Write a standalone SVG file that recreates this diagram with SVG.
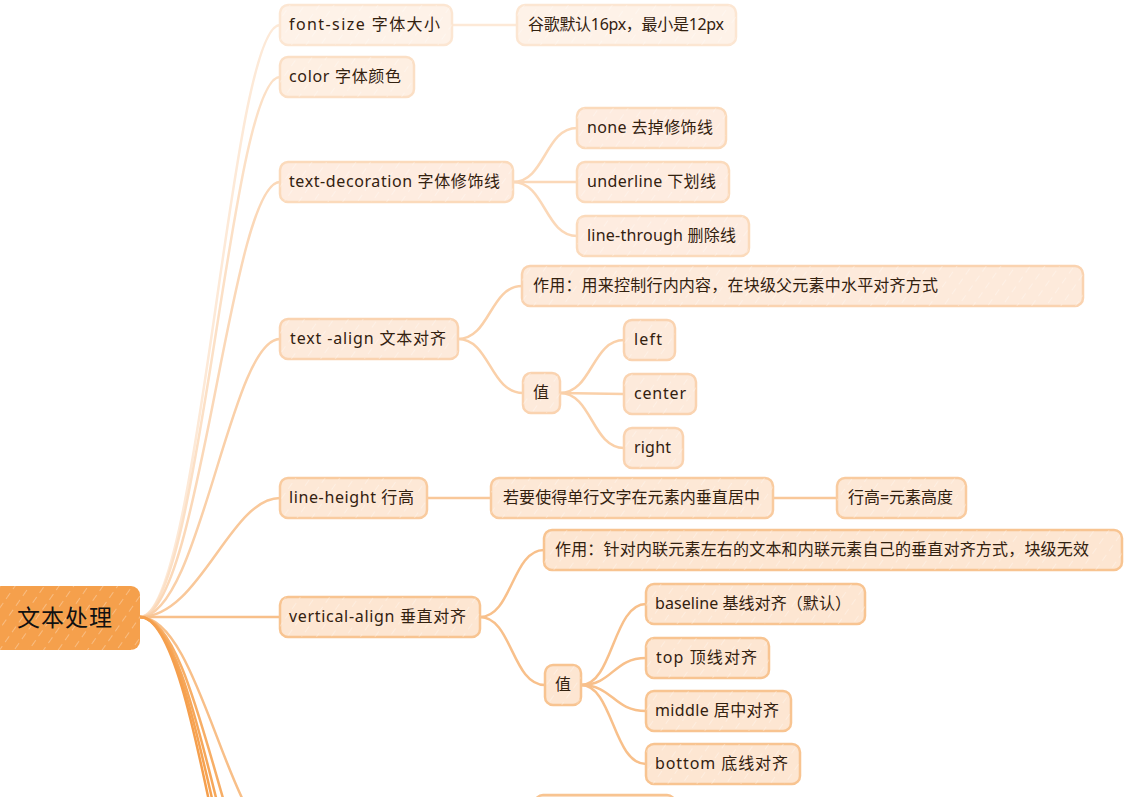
<svg xmlns="http://www.w3.org/2000/svg" width="1131" height="797" viewBox="0 0 1131 797">
<style>
.t{font-family:"Noto Sans","Noto Sans CJK SC",sans-serif;font-size:16px;fill:#33210f}
.rt{font-family:"Noto Sans CJK SC","Noto Sans",sans-serif;font-size:23px;fill:#111}
.c{fill:none;stroke-width:2.5;stroke-linecap:round}
.b0{stroke:#fde9d7}.b1{stroke:#fce0c6}.b2{stroke:#fbd8b8}.b3{stroke:#fad0a9}.b4{stroke:#f9c89a}.b5{stroke:#f8c08b}
.n0{fill:#fef2e8;stroke:#fce6d2}
.n1{fill:#feefe2;stroke:#fbdfc5}
.n2{fill:#feece0;stroke:#fbdabb}
.n3{fill:#fdeadb;stroke:#fad3b0}
.n4{fill:#fde8d6;stroke:#f9cb9f}
.n5{fill:#fde6d2;stroke:#f8c491}
.n{stroke-width:2.5}
.h{fill:url(#hatch)}
</style>
<defs>
<pattern id="hatch" width="12" height="12" patternUnits="userSpaceOnUse" patternTransform="rotate(35)">
<line x1="0" y1="0" x2="0" y2="7" stroke="#ffffff" stroke-width="1" opacity="0.6"/>
</pattern>
</defs>
<rect width="1131" height="797" fill="#ffffff"/>
<g id="connectors">
<path class="c b0" d="M140,617 C200,617 230,25 280,25"/>
<path class="c b1" d="M140,617 C200,617 230,77 280,77"/>
<path class="c b2" d="M140,617 C200,617 230,182 280,182"/>
<path class="c b3" d="M140,617 C200,617 230,339 280,339"/>
<path class="c b4" d="M140,617 C200,617 230,498 280,498"/>
<path class="c b5" d="M140,617 L280,617"/>
<path class="c" stroke="#f8bf88" d="M140,617 C200,617 230,840 280,840"/>
<path class="c" stroke="#f7ae66" d="M140,617 C200,617 230,915 280,915"/>
<path class="c" stroke="#f6a75a" d="M140,617 C200,617 230,960 280,960"/>
<path class="c" stroke="#f6a352" d="M140,617 C200,617 230,995 280,995"/>
<path class="c" stroke="#f59f4d" d="M140,617 C200,617 230,1030 280,1030"/>
<path class="c b0" d="M452,25 L517,25"/>
<path class="c b2" d="M513,182 C545,182 545,128 577,128"/>
<path class="c b2" d="M513,182 L577,182"/>
<path class="c b2" d="M513,182 C545,182 545,236 577,236"/>
<path class="c b3" d="M458,339 C490,339 490,286 522,286"/>
<path class="c b3" d="M458,339 C490,339 490,393 523,393"/>
<path class="c b3" d="M560,393 C592,393 592,340 624,340"/>
<path class="c b3" d="M560,393 L624,394"/>
<path class="c b3" d="M560,393 C592,393 592,448 624,448"/>
<path class="c b4" d="M427,498 L491,498"/>
<path class="c b4" d="M773,498 L837,498"/>
<path class="c b5" d="M480,617 C512,617 512,550 544,550"/>
<path class="c b5" d="M480,617 C512,617 512,685 545,685"/>
<path class="c b5" d="M581,685 C613,685 613,604 646,604"/>
<path class="c b5" d="M581,685 C613,685 613,658 646,658"/>
<path class="c b5" d="M581,685 C613,685 613,711 646,711"/>
<path class="c b5" d="M581,685 C613,685 613,764 646,764"/>
</g>
<g id="root">
<rect x="-12" y="586" width="152" height="64" rx="9" fill="#f5a04c"/>
<rect x="-12" y="586" width="152" height="64" rx="9" class="h"/>
<text class="rt" x="17" y="626" textLength="95" lengthAdjust="spacing">文本处理</text>
</g>
<g id="n-fontsize">
<rect class="n n0" x="280" y="5" width="172" height="40" rx="8"/><rect class="h" x="280" y="5" width="172" height="40" rx="8"/>
<text class="t" x="289" y="30" textLength="151" lengthAdjust="spacing">font-size  字体大小</text>
</g>
<g id="n-fontsize-note">
<rect class="n n0" x="517" y="5" width="219" height="40" rx="8"/><rect class="h" x="517" y="5" width="219" height="40" rx="8"/>
<text class="t" x="528" y="30" textLength="196" lengthAdjust="spacing">谷歌默认16px，最小是12px</text>
</g>
<g id="n-color">
<rect class="n n1" x="280" y="57" width="134" height="40" rx="8"/><rect class="h" x="280" y="57" width="134" height="40" rx="8"/>
<text class="t" x="289" y="82" textLength="112" lengthAdjust="spacing">color  字体颜色</text>
</g>
<g id="n-textdecoration">
<rect class="n n2" x="280" y="162" width="233" height="40" rx="8"/><rect class="h" x="280" y="162" width="233" height="40" rx="8"/>
<text class="t" x="289" y="187" textLength="211" lengthAdjust="spacing">text-decoration 字体修饰线</text>
</g>
<g id="n-none">
<rect class="n n2" x="577" y="108" width="149" height="40" rx="8"/><rect class="h" x="577" y="108" width="149" height="40" rx="8"/>
<text class="t" x="587" y="133" textLength="126" lengthAdjust="spacing">none  去掉修饰线</text>
</g>
<g id="n-underline">
<rect class="n n2" x="577" y="162" width="152" height="40" rx="8"/><rect class="h" x="577" y="162" width="152" height="40" rx="8"/>
<text class="t" x="587" y="187" textLength="129" lengthAdjust="spacing">underline  下划线</text>
</g>
<g id="n-linethrough">
<rect class="n n2" x="577" y="216" width="172" height="40" rx="8"/><rect class="h" x="577" y="216" width="172" height="40" rx="8"/>
<text class="t" x="587" y="241" textLength="149" lengthAdjust="spacing">line-through 删除线</text>
</g>
<g id="n-textalign">
<rect class="n n3" x="280" y="319" width="178" height="40" rx="8"/><rect class="h" x="280" y="319" width="178" height="40" rx="8"/>
<text class="t" x="290" y="344" textLength="156" lengthAdjust="spacing">text -align  文本对齐</text>
</g>
<g id="n-textalign-use">
<rect class="n n3" x="522" y="266" width="561" height="40" rx="8"/><rect class="h" x="522" y="266" width="561" height="40" rx="8"/>
<text class="t" x="533" y="291" textLength="405" lengthAdjust="spacing">作用：用来控制行内内容，在块级父元素中水平对齐方式</text>
</g>
<g id="n-textalign-val">
<rect class="n n3" x="523" y="373" width="37" height="40" rx="8"/><rect class="h" x="523" y="373" width="37" height="40" rx="8"/>
<text class="t" x="533" y="398">值</text>
</g>
<g id="n-left">
<rect class="n n3" x="624" y="320" width="51" height="40" rx="8"/><rect class="h" x="624" y="320" width="51" height="40" rx="8"/>
<text class="t" x="634" y="345" textLength="28" lengthAdjust="spacing">left</text>
</g>
<g id="n-center">
<rect class="n n3" x="624" y="374" width="72" height="40" rx="8"/><rect class="h" x="624" y="374" width="72" height="40" rx="8"/>
<text class="t" x="634" y="399" textLength="52" lengthAdjust="spacing">center</text>
</g>
<g id="n-right">
<rect class="n n3" x="624" y="428" width="59" height="40" rx="8"/><rect class="h" x="624" y="428" width="59" height="40" rx="8"/>
<text class="t" x="634" y="453" textLength="37" lengthAdjust="spacing">right</text>
</g>
<g id="n-lineheight">
<rect class="n n4" x="280" y="478" width="147" height="40" rx="8"/><rect class="h" x="280" y="478" width="147" height="40" rx="8"/>
<text class="t" x="289" y="503" textLength="125" lengthAdjust="spacing">line-height  行高</text>
</g>
<g id="n-lineheight-note">
<rect class="n n4" x="491" y="478" width="282" height="40" rx="8"/><rect class="h" x="491" y="478" width="282" height="40" rx="8"/>
<text class="t" x="503" y="503" textLength="257" lengthAdjust="spacing">若要使得单行文字在元素内垂直居中</text>
</g>
<g id="n-lineheight-eq">
<rect class="n n4" x="837" y="478" width="129" height="40" rx="8"/><rect class="h" x="837" y="478" width="129" height="40" rx="8"/>
<text class="t" x="848" y="503" textLength="105" lengthAdjust="spacing">行高=元素高度</text>
</g>
<g id="n-verticalalign">
<rect class="n n5" x="280" y="597" width="200" height="40" rx="8"/><rect class="h" x="280" y="597" width="200" height="40" rx="8"/>
<text class="t" x="289" y="622" textLength="177" lengthAdjust="spacing">vertical-align  垂直对齐</text>
</g>
<g id="n-verticalalign-use">
<rect class="n n5" x="544" y="530" width="578" height="40" rx="8"/><rect class="h" x="544" y="530" width="578" height="40" rx="8"/>
<text class="t" x="555" y="555" textLength="534" lengthAdjust="spacing">作用：针对内联元素左右的文本和内联元素自己的垂直对齐方式，块级无效</text>
</g>
<g id="n-verticalalign-val">
<rect class="n n5" x="545" y="665" width="36" height="40" rx="8"/><rect class="h" x="545" y="665" width="36" height="40" rx="8"/>
<text class="t" x="555" y="690">值</text>
</g>
<g id="n-baseline">
<rect class="n n5" x="646" y="584" width="219" height="40" rx="8"/><rect class="h" x="646" y="584" width="219" height="40" rx="8"/>
<text class="t" x="655" y="609" textLength="196" lengthAdjust="spacing">baseline 基线对齐（默认）</text>
</g>
<g id="n-top">
<rect class="n n5" x="646" y="638" width="123" height="40" rx="8"/><rect class="h" x="646" y="638" width="123" height="40" rx="8"/>
<text class="t" x="656" y="663" textLength="101" lengthAdjust="spacing">top  顶线对齐</text>
</g>
<g id="n-middle">
<rect class="n n5" x="646" y="691" width="145" height="40" rx="8"/><rect class="h" x="646" y="691" width="145" height="40" rx="8"/>
<text class="t" x="655" y="716" textLength="124" lengthAdjust="spacing">middle  居中对齐</text>
</g>
<g id="n-bottom">
<rect class="n n5" x="646" y="744" width="154" height="40" rx="8"/><rect class="h" x="646" y="744" width="154" height="40" rx="8"/>
<text class="t" x="655" y="769" textLength="133" lengthAdjust="spacing">bottom  底线对齐</text>
</g>
<g id="n-partial">
<rect class="n n5" x="535" y="795" width="140" height="40" rx="8"/>
</g>
</svg>
